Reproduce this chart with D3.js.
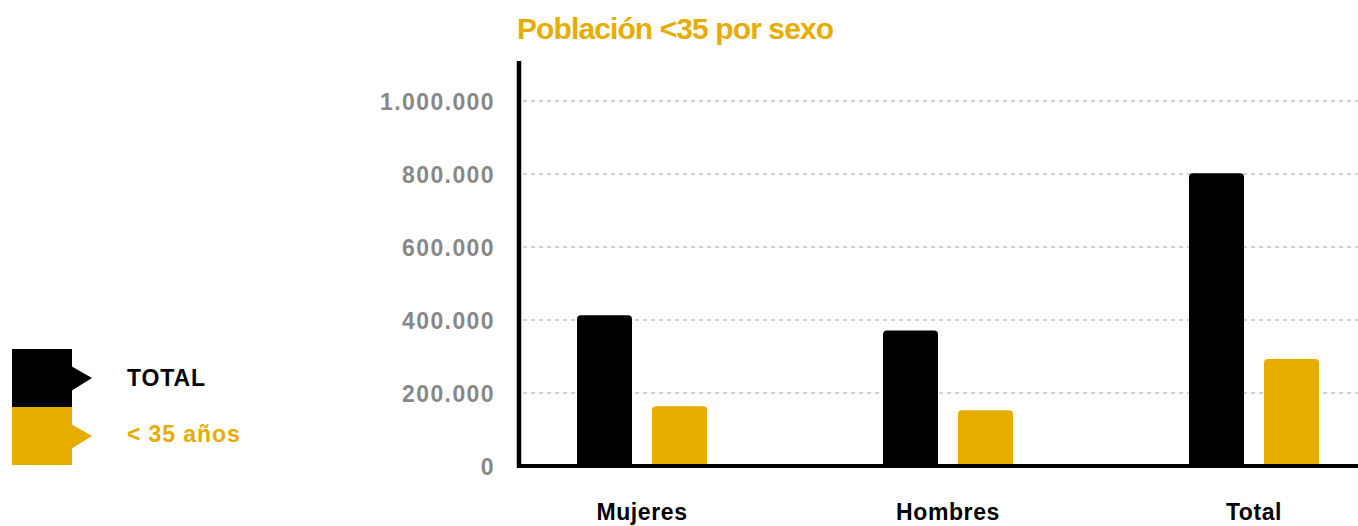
<!DOCTYPE html>
<html>
<head>
<meta charset="utf-8">
<script src="https://cdn.jsdelivr.net/npm/d3@7"></script>
<style>
  body { margin: 0; background: #fff; }
  text { font-family: "Liberation Sans", Arial, sans-serif; font-weight: bold; }
</style>
</head>
<body>
<div class="container"></div>
<script>
const categories = ['Mujeres', 'Hombres', 'Total']
const series = ['TOTAL', '< 35 años']
const totalValues = [413000, 371000, 802000]
const under35Values = [164000, 153000, 293000]
const tickValues = [0, 200000, 400000, 600000, 800000, 1000000]
const colors = ['#000000', '#e6ac00']

const data = categories.map((c, i) => ({
  cat: c,
  values: [totalValues[i], under35Values[i]]
}))

const svg = d3.select('.container').append('svg')
  .attr('width', 1358)
  .attr('height', 526)

const y = d3.scaleLinear()
  .domain([0, 1000000])
  .range([466, 101])

const x0 = d3.scalePoint()
  .domain(categories)
  .range([642, 1254])

const x1 = d3.scaleBand()
  .domain(series)
  .range([-65, 65])
  .paddingInner(0.2667)

const locale = d3.formatLocale({ decimal: ',', thousands: '.', grouping: [3], currency: ['', '€'] })
const fmt = locale.format(',d')

// title
svg.append('text')
  .attr('x', 517)
  .attr('y', 39)
  .attr('fill', '#e6ac00')
  .style('font-size', '30px')
  .style('letter-spacing', '-0.9px')
  .text('Población <35 por sexo')

// gridlines
svg.append('g')
  .selectAll('line')
  .data(tickValues.filter(d => d > 0))
  .enter()
  .append('line')
  .attr('x1', 523)
  .attr('x2', 1358)
  .attr('y1', d => y(d))
  .attr('y2', d => y(d))
  .attr('stroke', '#d2d2d2')
  .attr('stroke-width', 2)
  .attr('stroke-dasharray', '4,4')

// y axis labels
const yAxis = svg.append('g')
  .attr('transform', 'translate(519,0)')
  .call(d3.axisLeft(y).tickValues(tickValues).tickFormat(fmt).tickSize(0).tickPadding(24))
yAxis.select('.domain').remove()
yAxis.selectAll('text')
  .attr('fill', '#888888')
  .style('font-size', '23px')
  .style('letter-spacing', '1.4px')
  .style('font-family', '"Liberation Sans", Arial, sans-serif')
  .style('font-weight', 'bold')
  .attr('dy', '0.36em')

// bars with rounded top corners
const barPath = (bx, by, w, h, r) => {
  return `M${bx},${by + h}V${by + r}Q${bx},${by} ${bx + r},${by}H${bx + w - r}Q${bx + w},${by} ${bx + w},${by + r}V${by + h}Z`
}

const groups = svg.append('g')
  .selectAll('g')
  .data(data)
  .enter()
  .append('g')
  .attr('transform', d => `translate(${x0(d.cat)},0)`)

groups.selectAll('path')
  .data(d => d.values.map((v, i) => ({ key: series[i], value: v, i: i })))
  .enter()
  .append('path')
  .attr('d', d => barPath(x1(d.key), y(d.value), x1.bandwidth(), y(0) - y(d.value), 4))
  .attr('fill', d => colors[d.i])

// axis lines
svg.append('line')
  .attr('x1', 519).attr('x2', 519)
  .attr('y1', 61).attr('y2', 468)
  .attr('stroke', '#000').attr('stroke-width', 4.5)
svg.append('line')
  .attr('x1', 517).attr('x2', 1358)
  .attr('y1', 466).attr('y2', 466)
  .attr('stroke', '#000').attr('stroke-width', 4)

// category labels
svg.append('g')
  .selectAll('text')
  .data(categories)
  .enter()
  .append('text')
  .attr('x', d => x0(d))
  .attr('y', 520)
  .attr('text-anchor', 'middle')
  .attr('fill', '#000')
  .style('font-size', '23px')
  .style('letter-spacing', '0.6px')
  .text(d => d)

// legend
const legend = svg.append('g')
  .selectAll('g')
  .data(series)
  .enter()
  .append('g')
  .attr('transform', (d, i) => `translate(12,${349 + i * 58})`)

legend.append('rect')
  .attr('width', 60)
  .attr('height', 58)
  .attr('fill', (d, i) => colors[i])
legend.append('path')
  .attr('d', 'M59,17L80,29L59,42Z')
  .attr('fill', (d, i) => colors[i])
legend.append('text')
  .attr('x', 115)
  .attr('y', (d, i) => i === 0 ? 37 : 35)
  .attr('fill', (d, i) => colors[i])
  .style('font-size', '23px')
  .style('letter-spacing', '0.9px')
  .text(d => d)
</script>
</body>
</html>
